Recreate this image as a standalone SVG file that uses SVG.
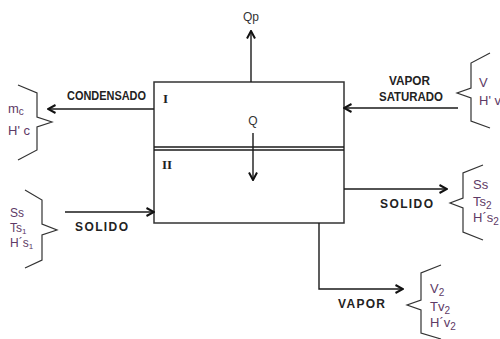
<svg xmlns="http://www.w3.org/2000/svg" width="500" height="339" viewBox="0 0 500 339">
<style>
.ln{fill:none;stroke:#1a1a1a;stroke-width:1.4}
.box{fill:#fff;stroke:#333;stroke-width:1.5}
.br{fill:none;stroke:#333;stroke-width:1.2}
.bl{font-family:"Liberation Sans",Arial,sans-serif;font-weight:bold;font-size:12px;fill:#222}
.rg{font-family:"Liberation Sans",Arial,sans-serif;font-size:12px;fill:#333}
.pv{font-family:"Liberation Sans",Arial,sans-serif;font-size:13px;fill:#5e3a66}
.pv.sm{font-size:12px}
.rm{font-family:"Liberation Serif","Times New Roman",serif;font-weight:bold;font-size:13px;fill:#222}
.sb{font-size:10px}
.sb1{font-size:8px}
</style>
<defs>
<marker id="ah" markerUnits="userSpaceOnUse" viewBox="0 0 10 10" refX="9" refY="5" markerWidth="10" markerHeight="10" orient="auto">
<path d="M1.5,1 L9,5 L1.5,9" fill="none" stroke="#111" stroke-width="2"/>
</marker>
</defs>
<rect width="500" height="339" fill="#fff"/>
<g id="equipo">
<rect class="box" x="154" y="82" width="190" height="141"/>
<line class="ln" x1="154" y1="147" x2="344" y2="147"/>
<line class="ln" x1="154" y1="150" x2="344" y2="150"/>
<text class="rm" x="163" y="103">I</text>
<text class="rm" x="162" y="169">II</text>
<text class="rg" x="253" y="125" text-anchor="middle">Q</text>
</g>
<g id="connectors">
<line class="ln" x1="251" y1="82" x2="251" y2="31" marker-end="url(#ah)"/>
<line class="ln" x1="253" y1="133" x2="253" y2="180" marker-end="url(#ah)"/>
<line class="ln" x1="154" y1="109" x2="48" y2="109" marker-end="url(#ah)"/>
<line class="ln" x1="458" y1="108" x2="344" y2="108" marker-end="url(#ah)"/>
<line class="ln" x1="65" y1="212" x2="154" y2="212" marker-end="url(#ah)"/>
<line class="ln" x1="344" y1="189" x2="447" y2="189" marker-end="url(#ah)"/>
<polyline class="ln" points="319,223 319,289 403,289" marker-end="url(#ah)"/>
<text class="rg" x="251" y="21" text-anchor="middle">Qp</text>
<text class="bl" x="67" y="100" textLength="79" lengthAdjust="spacingAndGlyphs">CONDENSADO</text>
<text class="bl" x="389" y="85" textLength="41" lengthAdjust="spacingAndGlyphs">VAPOR</text>
<text class="bl" x="379" y="101" textLength="64" lengthAdjust="spacingAndGlyphs">SATURADO</text>
<text class="bl" x="75" y="231" textLength="53" lengthAdjust="spacing">SOLIDO</text>
<text class="bl" x="380" y="208" textLength="53" lengthAdjust="spacing">SOLIDO</text>
<text class="bl" x="338" y="308" textLength="47" lengthAdjust="spacing">VAPOR</text>
</g>
<g id="condensado">
<polyline class="br" points="18,85 37,93 37,117 52,122 37,127 37,150 18,160"/>
<text class="pv" x="8" y="113">m<tspan class="sb" dy="2">c</tspan></text>
<text class="pv" x="8" y="135">H' c</text>
</g>
<g id="vapor-saturado">
<polyline class="br" points="490,53 471,63 471,88 457,93 471,98 471,121 490,128"/>
<text class="pv" x="479" y="87">V</text>
<text class="pv" x="479" y="105">H' v</text>
</g>
<g id="solido-entrada">
<polyline class="br" points="25,190 42,200 42,224 57,230 42,235 42,260 25,268"/>
<text class="pv sm" x="10" y="217">Ss</text>
<text class="pv sm" x="10" y="232">Ts<tspan class="sb1" dy="2">1</tspan></text>
<text class="pv sm" x="10" y="247">H´s<tspan class="sb1" dy="2">1</tspan></text>
</g>
<g id="solido-salida">
<polyline class="br" points="483,165 463,173 463,198 450,203 463,208 463,232 483,240"/>
<text class="pv" x="473" y="189">Ss</text>
<text class="pv" x="473" y="206">Ts<tspan class="sb" dy="3">2</tspan></text>
<text class="pv" x="473" y="222">H´s<tspan class="sb" dy="3">2</tspan></text>
</g>
<g id="vapor-salida">
<polyline class="br" points="441,265 421,273 421,300 407,305 421,310 421,333 441,339"/>
<text class="pv" x="430" y="293">V<tspan class="sb" dy="3">2</tspan></text>
<text class="pv" x="430" y="311">Tv<tspan class="sb" dy="3">2</tspan></text>
<text class="pv" x="430" y="327">H´v<tspan class="sb" dy="3">2</tspan></text>
</g>
</svg>
